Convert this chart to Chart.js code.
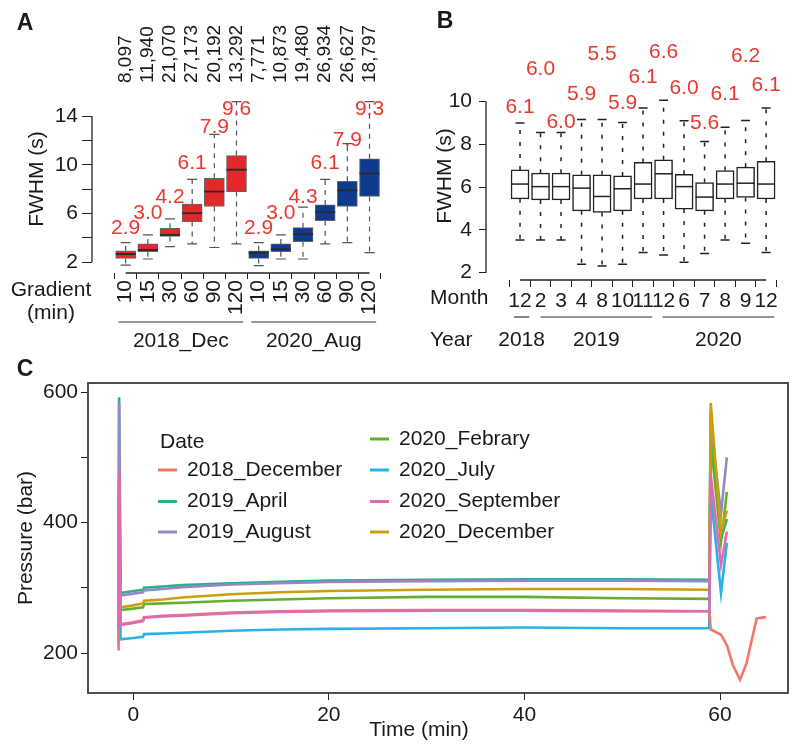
<!DOCTYPE html>
<html>
<head>
<meta charset="utf-8">
<script src="https://cdn.jsdelivr.net/npm/chart.js@4.4.1/dist/chart.umd.min.js"></script>
<style>
  body { margin: 0; background: #fff; width: 800px; height: 754px; position: relative; overflow: hidden; }
  canvas { position: absolute; }
  #chartA { left: 0; top: 0; }
  #chartB { left: 400px; top: 0; }
  #chartC { left: 0; top: 350px; }
</style>
</head>
<body>
<canvas id="chartA" width="400" height="360"></canvas>
<canvas id="chartB" width="400" height="360"></canvas>
<canvas id="chartC" width="800" height="404"></canvas>
<script>
// ---------- panel A: FWHM by gradient length ----------
const gradients = ['10', '15', '30', '60', '90', '120', '10', '15', '30', '60', '90', '120'];
const batches = ['2018_Dec', '2020_Aug'];
const peptideCounts = ['8,097', '11,940', '21,070', '27,173', '20,192', '13,292', '7,771', '10,873', '19,480', '26,934', '26,627', '18,797'];
const meanA = [2.9, 3.0, 4.2, 6.1, 7.9, 9.6, 2.9, 3.0, 4.3, 6.1, 7.9, 9.3];
const lowA  = [1.75, 2.25, 3.27, 3.49, 3.2, 3.49, 1.7, 2.25, 2.25, 3.49, 3.6, 2.77];
const q1A   = [2.3, 2.85, 4.1, 5.33, 6.57, 7.8, 2.3, 2.85, 3.68, 5.4, 6.57, 7.4];
const medA  = [2.66, 3.0, 4.23, 6.02, 7.8, 9.6, 2.77, 3.05, 4.3, 6.1, 7.9, 9.3];
const q3A   = [2.93, 3.49, 4.78, 6.77, 8.9, 10.76, 2.93, 3.49, 4.83, 6.7, 8.64, 10.5];
const highA = [3.6, 4.23, 5.55, 8.8, 12.5, 15.2, 3.6, 4.23, 6.52, 8.8, 11.75, 15.2];

// ---------- panel B: FWHM by month ----------
const months = ['12', '2', '3', '4', '8', '10', '11', '12', '6', '7', '8', '9', '12'];
const years = ['2018', '2019', '2020'];
const meanB = [6.1, 6.0, 6.0, 5.9, 5.5, 5.9, 6.1, 6.6, 6.0, 5.6, 6.1, 6.2, 6.1];
const lowB  = [3.53, 3.53, 3.53, 2.39, 2.31, 2.39, 2.94, 2.83, 2.49, 2.9, 3.53, 3.38, 2.94];
const q1B   = [5.45, 5.4, 5.4, 4.89, 4.81, 4.89, 5.44, 5.44, 4.97, 4.89, 5.45, 5.51, 5.44];
const medB  = [6.14, 6.02, 6.02, 5.95, 5.56, 5.92, 6.14, 6.62, 6.02, 5.53, 6.14, 6.18, 6.14];
const q3B   = [6.8, 6.65, 6.65, 6.57, 6.57, 6.52, 7.15, 7.27, 6.6, 6.21, 6.77, 6.93, 7.2];
const highB = [8.99, 8.55, 8.55, 9.15, 9.15, 9.02, 9.69, 10.05, 9.1, 8.13, 8.79, 9.11, 9.69];

// ---------- panel C: pump pressure traces ----------
const runs = ['2018_December', '2019_April', '2019_August', '2020_Febrary', '2020_July', '2020_September', '2020_December'];
const timeMin = [-1.5, -1.45, -1.3, 0, 1, 1.1, 3, 5, 10, 15, 20, 30, 40, 50, 58.9, 59.05, 60.1, 60.7, 61.3, 62.05, 62.7, 63.75, 64.7];
const dec2018 = [204, 455, 244, 247, 250, 255, 257, 258, 262, 264, 265, 266, 266, 265, 264, 236, 228, 212, 182, 159, 184, 253, 255];
const apr2019 = [280, 592, 292, 295, 297, 300, 302, 304, 307, 309, 311, 312, 313, 313, 312, 572, 375, 405];
const aug2019 = [282, 585, 288, 291, 293, 296, 298, 301, 305, 307, 309, 310, 311, 311, 310, 549, 414, 500];
const feb2020 = [260, 450, 266, 268, 270, 275, 276, 277, 280, 282, 284, 286, 286, 284, 283, 525, 370, 447];
const jul2020 = [215, 432, 221, 223, 225, 229, 230, 231, 234, 236, 237, 238, 239, 238, 238, 445, 292, 369];
const sep2020 = [236, 478, 243, 246, 249, 254, 256, 257, 261, 263, 264, 265, 265, 264, 264, 473, 335, 386];
const dec2020 = [265, 460, 270, 273, 276, 280, 282, 285, 290, 293, 295, 297, 298, 298, 297, 583, 385, 418];
const traces = [dec2018, apr2019, aug2019, feb2020, jul2020, sep2020, dec2020];

const runColors = ['#F0766B', '#2DAF88', '#9488CB', '#63B030', '#27B3E6', '#DE6AB0', '#C9A00C'];
const drawOrder = [1, 6, 5, 4, 2, 0, 3];

const FONT = "'Liberation Sans', Arial, sans-serif";
Chart.defaults.font.family = FONT;
Chart.defaults.font.size = 21;
Chart.defaults.color = '#1a1a1a';
Chart.defaults.animation = false;
const INK = '#222';
const RED_TXT = '#E8392F';

function text(ctx, str, x, y, opt = {}) {
    ctx.save();
    ctx.font = `${opt.bold ? 'bold ' : ''}${opt.size || 21}px ${FONT}`;
    ctx.fillStyle = opt.color || '#1a1a1a';
    ctx.textAlign = opt.align || 'center';
    ctx.textBaseline = 'middle';
    ctx.translate(x, y);
    if (opt.rotate) ctx.rotate(opt.rotate);
    ctx.fillText(str, 0, 0);
    ctx.restore();
}

function line(ctx, x1, y1, x2, y2, color = INK, width = 1.3) {
    ctx.save();
    ctx.strokeStyle = color;
    ctx.lineWidth = width;
    ctx.beginPath();
    ctx.moveTo(x1, y1);
    ctx.lineTo(x2, y2);
    ctx.stroke();
    ctx.restore();
}

// whiskers, caps and medians drawn on top of the floating bars
function boxWhiskers(stats, look) {
    return {
        id: 'boxWhiskers',
        afterDatasetsDraw(chart) {
            const { ctx } = chart;
            const xs = chart.scales.x, ys = chart.scales.y;
            ctx.save();
            stats.low.forEach((lo, i) => {
                const cx = xs.getPixelForValue(i);
                const yLo = ys.getPixelForValue(lo);
                const yHi = ys.getPixelForValue(stats.high[i]);
                const yQ1 = ys.getPixelForValue(stats.q1[i]);
                const yQ3 = ys.getPixelForValue(stats.q3[i]);
                ctx.strokeStyle = look.whisker;
                ctx.lineWidth = look.width;
                ctx.setLineDash(look.dash);
                ctx.beginPath();
                ctx.moveTo(cx, yQ3); ctx.lineTo(cx, yHi);
                ctx.moveTo(cx, yQ1); ctx.lineTo(cx, yLo);
                ctx.stroke();
                ctx.setLineDash([]);
                ctx.beginPath();
                ctx.moveTo(cx - look.cap / 2, yHi); ctx.lineTo(cx + look.cap / 2, yHi);
                ctx.moveTo(cx - look.cap / 2, yLo); ctx.lineTo(cx + look.cap / 2, yLo);
                ctx.stroke();
                const yMed = ys.getPixelForValue(stats.med[i]);
                ctx.strokeStyle = look.median;
                ctx.lineWidth = look.medianWidth;
                ctx.beginPath();
                ctx.moveTo(cx - look.box / 2, yMed); ctx.lineTo(cx + look.box / 2, yMed);
                ctx.stroke();
            });
            ctx.restore();
        }
    };
}

// ---------- chart A ----------
const labelLiftA = [4.8, 6.04, 7.36, 10.16, 13.13, 14.54, 4.8, 6.04, 7.36, 10.16, 12.06, 14.54];
const decorA = {
    id: 'decorA',
    afterDraw(chart) {
        const { ctx, chartArea } = chart;
        const xs = chart.scales.x, ys = chart.scales.y;
        line(ctx, chartArea.left, ys.getPixelForValue(2), chartArea.left, ys.getPixelForValue(14));
        line(ctx, xs.getPixelForValue(0), chartArea.bottom, xs.getPixelForValue(11), chartArea.bottom);
        peptideCounts.forEach((c, i) => {
            text(ctx, c, xs.getPixelForValue(i), 83, { size: 19, align: 'left', rotate: -Math.PI / 2 });
        });
        meanA.forEach((m, i) => {
            text(ctx, m.toFixed(1), xs.getPixelForValue(i), ys.getPixelForValue(labelLiftA[i]), { color: RED_TXT });
        });
        text(ctx, 'FWHM (s)', 37, 179, { rotate: -Math.PI / 2 });
        text(ctx, 'Gradient', 51, 290);
        text(ctx, '(min)', 51, 313);
        [[-0.33, 5.3], [5.67, 11.3]].forEach(([a, b], k) => {
            const x1 = xs.getPixelForValue(a), x2 = xs.getPixelForValue(b);
            line(ctx, x1, 322, x2, 322, '#333', 1.2);
            text(ctx, batches[k], (x1 + x2) / 2, 341);
        });
        text(ctx, 'A', 25, 24, { bold: true, size: 23 });
    }
};

new Chart(document.getElementById('chartA'), {
    type: 'bar',
    data: {
        datasets: [{
            data: gradients.map((g, i) => ({ x: i, y: [q1A[i], q3A[i]] })),
            backgroundColor: gradients.map((g, i) => i < 6 ? '#E2282A' : '#0E3B8D'),
            borderColor: 'rgba(50,50,50,0.75)',
            borderWidth: 1,
            borderSkipped: false,
            barThickness: 20
        }]
    },
    options: {
        responsive: false,
        layout: { padding: { top: 98, right: 5, left: 0, bottom: 0 } },
        plugins: { legend: { display: false }, tooltip: { enabled: false } },
        scales: {
            x: {
                type: 'linear', min: -0.95, max: 11.58,
                afterBuildTicks: s => { s.ticks = gradients.map((g, i) => ({ value: i })); },
                afterFit: s => { s.height = 87; },
                border: { display: false },
                grid: { drawOnChartArea: false, tickLength: 6, color: INK },
                ticks: { autoSkip: false, minRotation: 90, maxRotation: 90, padding: 1, callback: v => gradients[v] }
            },
            y: {
                min: 1.1, max: 15.5,
                afterBuildTicks: s => { s.ticks = [2, 4, 6, 8, 10, 12, 14].map(v => ({ value: v })); },
                afterFit: s => { s.width = 92; },
                border: { display: false },
                grid: { drawOnChartArea: false, tickLength: 10, color: INK },
                ticks: { padding: 4, callback: v => ((v - 2) % 4 === 0 ? v : '') }
            }
        }
    },
    plugins: [
        boxWhiskers({ low: lowA, q1: q1A, med: medA, q3: q3A, high: highA },
            { whisker: '#555', width: 1.2, dash: [5, 5], cap: 10, median: '#2a2a2a', medianWidth: 1.8, box: 20 }),
        decorA
    ]
});

// ---------- chart B ----------
const labelLiftB = [9.75, 11.49, 9.05, 10.36, 12.19, 9.94, 11.11, 12.28, 10.64, 9.0, 10.32, 12.1, 10.78];
const yearSpans = [[-0.3, 0.45], [1.0, 6.45], [6.95, 12.4]];
const decorB = {
    id: 'decorB',
    afterDraw(chart) {
        const { ctx, chartArea } = chart;
        const xs = chart.scales.x, ys = chart.scales.y;
        line(ctx, chartArea.left, ys.getPixelForValue(2), chartArea.left, ys.getPixelForValue(10));
        line(ctx, xs.getPixelForValue(0), chartArea.bottom, xs.getPixelForValue(12), chartArea.bottom);
        meanB.forEach((m, i) => {
            text(ctx, m.toFixed(1), xs.getPixelForValue(i), ys.getPixelForValue(labelLiftB[i]), { color: RED_TXT });
        });
        text(ctx, 'FWHM (s)', 45, 176, { rotate: -Math.PI / 2 });
        text(ctx, 'Month', 30, 298, { align: 'left' });
        text(ctx, 'Year', 30, 340, { align: 'left' });
        yearSpans.forEach(([a, b], k) => {
            const x1 = xs.getPixelForValue(a), x2 = xs.getPixelForValue(b);
            line(ctx, x1, 317, x2, 317, '#333', 1.2);
            text(ctx, years[k], (x1 + x2) / 2, 340);
        });
        text(ctx, 'B', 45, 22, { bold: true, size: 23 });
    }
};

new Chart(document.getElementById('chartB'), {
    type: 'bar',
    data: {
        datasets: [{
            data: months.map((m, i) => ({ x: i, y: [q1B[i], q3B[i]] })),
            backgroundColor: '#fff',
            borderColor: INK,
            borderWidth: 1.5,
            borderSkipped: false,
            barThickness: 18
        }]
    },
    options: {
        responsive: false,
        layout: { padding: { top: 95, right: 5, left: 0, bottom: 0 } },
        plugins: { legend: { display: false }, tooltip: { enabled: false } },
        scales: {
            x: {
                type: 'linear', min: -1.08, max: 12.83,
                afterBuildTicks: s => { s.ticks = months.map((m, i) => ({ value: i })); },
                afterFit: s => { s.height = 80; },
                border: { display: false },
                grid: { drawOnChartArea: false, tickLength: 7, color: INK },
                ticks: { autoSkip: false, maxRotation: 0, padding: 2, callback: v => months[v] }
            },
            y: {
                min: 1.658, max: 10.3,
                afterBuildTicks: s => { s.ticks = [2, 4, 6, 8, 10].map(v => ({ value: v })); },
                afterFit: s => { s.width = 86; },
                border: { display: false },
                grid: { drawOnChartArea: false, tickLength: 7, color: INK },
                ticks: { padding: 7 }
            }
        }
    },
    plugins: [
        boxWhiskers({ low: lowB, q1: q1B, med: medB, q3: q3B, high: highB },
            { whisker: INK, width: 1.5, dash: [4, 8], cap: 9, median: INK, medianWidth: 1.5, box: 18 }),
        decorB
    ]
});

// ---------- chart C ----------
const decorC = {
    id: 'decorC',
    afterDraw(chart) {
        const { ctx, chartArea: a } = chart;
        ctx.save();
        ctx.strokeStyle = '#3c3c3c';
        ctx.lineWidth = 1.8;
        ctx.strokeRect(a.left, a.top, a.right - a.left, a.bottom - a.top);
        ctx.restore();
        text(ctx, 'Date', 160, 92, { align: 'left' });
        const rowY = [89, 120, 151.5, 182];
        const slots = [[0, 1], [0, 2], [0, 3], [1, 0], [1, 1], [1, 2], [1, 3]];
        runs.forEach((r, i) => {
            const [col, row] = slots[i];
            const mx = col === 0 ? 158 : 370;
            line(ctx, mx, rowY[row], mx + 19, rowY[row], runColors[i], 3);
            text(ctx, r, mx + 29, rowY[row], { align: 'left' });
        });
        text(ctx, 'Time (min)', 419, 380);
        text(ctx, 'C', 25, 20, { bold: true, size: 23 });
    }
};

new Chart(document.getElementById('chartC'), {
    type: 'line',
    data: {
        datasets: runs.map((r, k) => ({
            label: r,
            data: timeMin.map((t, i) => ({ x: t, y: traces[k][i] ?? null })),
            borderColor: runColors[k],
            borderWidth: 2.6,
            pointRadius: 0,
            tension: 0,
            spanGaps: false,
            order: drawOrder[k]
        }))
    },
    options: {
        responsive: false,
        layout: { padding: { top: 33, right: 12, left: 0, bottom: 0 } },
        plugins: { legend: { display: false }, tooltip: { enabled: false } },
        scales: {
            x: {
                type: 'linear', min: -4.63, max: 66.95,
                afterBuildTicks: s => { s.ticks = [0, 20, 40, 60].map(v => ({ value: v })); },
                afterFit: s => { s.height = 61; },
                border: { display: false },
                grid: { drawOnChartArea: false, tickLength: 7, color: INK },
                ticks: { maxRotation: 0, padding: 3 }
            },
            y: {
                min: 138.7, max: 613.8,
                afterBuildTicks: s => { s.ticks = [200, 300, 400, 500, 600].map(v => ({ value: v })); },
                afterFit: s => { s.width = 88; },
                border: { display: false },
                grid: { drawOnChartArea: false, tickLength: 7, color: INK },
                ticks: { padding: 3, callback: v => (v % 200 === 0 ? v : '') },
                title: { display: true, text: 'Pressure (bar)', padding: { top: 14, bottom: 0 } }
            }
        }
    },
    plugins: [decorC]
});
</script>
</body>
</html>
